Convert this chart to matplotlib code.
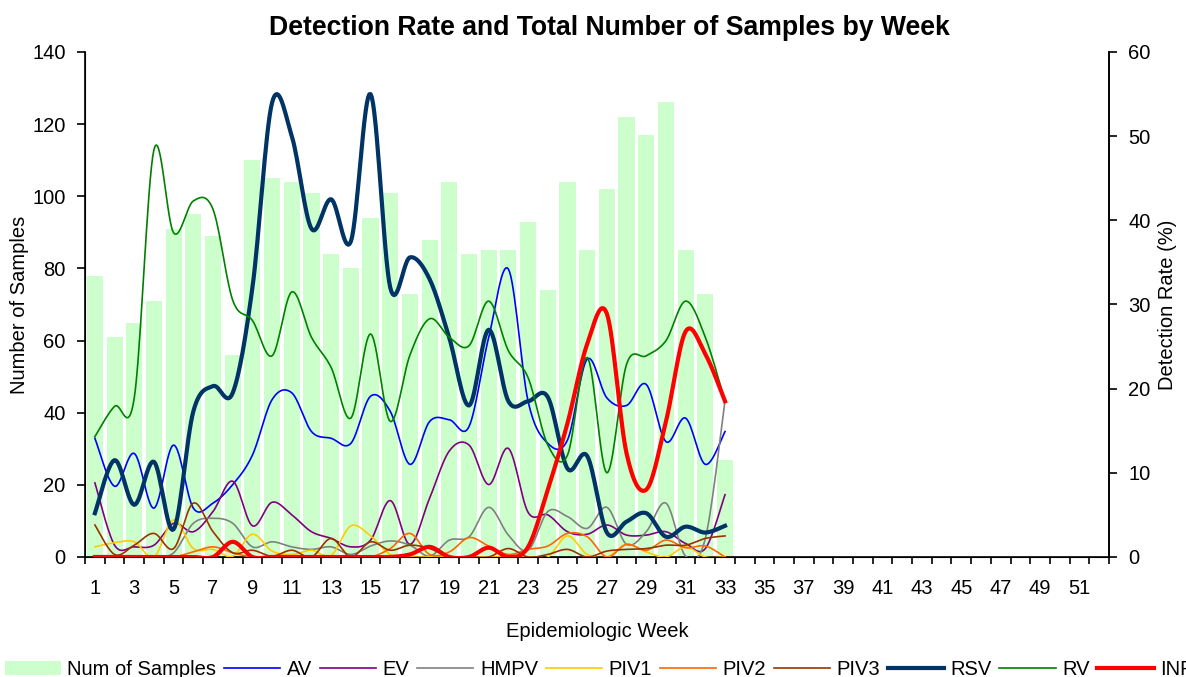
import numpy as np
import matplotlib
matplotlib.use("Agg")
import matplotlib.pyplot as plt
from matplotlib.patches import Patch
from matplotlib.lines import Line2D

plt.rcParams["font.family"] = ["Liberation Sans", "DejaVu Sans"]

WEEKS = list(range(1, 53))
DATA_WEEKS = list(range(1, 34))

NUM_SAMPLES = [78, 61, 65, 71, 91, 95, 89, 56, 110, 105, 104, 101, 84, 80, 94, 101, 73,
               88, 104, 84, 85, 85, 93, 74, 104, 85, 102, 122, 117, 126, 85, 73, 27]

AV = [14.1, 8.4, 12.3, 5.8, 13.3, 5.8, 6.4, 8.6, 12.1, 18.7, 19.5, 14.9, 14.1, 13.5, 19.1, 17.3, 11.0,
      16.1, 16.3, 15.5, 26.1, 34.2, 18.5, 13.5, 13.9, 23.5, 18.9, 18.0, 20.5, 13.7, 16.5, 11.0, 14.9]
EV = [8.8, 1.4, 1.2, 1.4, 4.0, 3.0, 5.4, 9.0, 3.7, 6.5, 5.0, 3.0, 2.2, 1.2, 2.0, 6.7, 1.5,
      7.0, 12.6, 13.3, 8.6, 12.9, 5.3, 5.0, 3.0, 2.7, 3.8, 2.6, 2.6, 3.0, 1.6, 1.0, 7.4]
HMPV = [0, 0, 0, 0, 0.5, 4.0, 4.6, 4.0, 1.2, 1.8, 1.2, 0.9, 1.2, 0.3, 1.3, 1.9, 1.4,
        0.1, 2.0, 2.4, 5.9, 2.6, 0.8, 5.4, 4.8, 3.4, 5.9, 1.5, 3.0, 6.4, 0.1, 2.2, 18.6]
PIV1 = [1.2, 1.7, 1.8, 0, 4.4, 1.0, 0.9, 0.1, 2.7, 0.7, 0.3, 0.8, 0.2, 3.7, 2.5, 0.3, 0,
        0, 0, 0, 0, 0, 0, 0, 2.5, 0.3, 0, 1.5, 0.6, 0, 1.2, 0, 0]
PIV2 = [0, 0, 0, 0, 0, 0.6, 1.2, 0.5, 0, 0, 0, 0, 0, 0, 0, 1.0, 2.8,
        0.3, 0.6, 2.3, 1.3, 0.3, 0.9, 1.3, 2.8, 2.4, 0, 1.5, 0.8, 2.0, 1.1, 1.3, 0]
PIV3 = [3.8, 0.3, 1.4, 2.8, 1.0, 6.4, 3.0, 0.5, 0.8, 0.1, 0.8, 0, 2.2, 0, 1.8, 0.8, 1.4,
        1.0, 0, 0, 0, 1.0, 0, 0.3, 0.9, 0, 0.7, 0.9, 1.0, 1.4, 1.4, 2.2, 2.5]
RSV = [5.2, 11.5, 6.2, 11.3, 3.3, 17.3, 20.3, 19.5, 32.0, 54.0, 50.0, 39.0, 42.5, 37.5, 55.0, 32.0, 35.6,
       33.0, 26.0, 18.0, 27.0, 18.5, 18.5, 19.0, 10.5, 12.0, 2.9, 4.2, 5.2, 2.4, 3.6, 2.9, 3.7]
RV = [14.3, 17.9, 18.9, 48.4, 38.5, 42.3, 41.3, 30.5, 28.1, 23.9, 31.5, 26.1, 22.5, 16.5, 26.5, 16.1, 24.0,
      28.3, 26.1, 25.1, 30.4, 24.5, 21.3, 13.3, 12.1, 23.7, 10.0, 22.9, 23.9, 25.7, 30.4, 26.1, 18.5]
INF = [0, 0, 0, 0, 0, 0, 0, 1.8, 0, 0, 0, 0, 0, 0, 0, 0, 0.3,
       1.2, 0, 0, 1.1, 0, 1.2, 8.0, 15.9, 25.3, 28.9, 12.3, 8.0, 16.1, 26.8, 24.1, 18.5]

SERIES = [("AV", AV, "#0000FF", 1.2), ("EV", EV, "#800080", 1.2), ("HMPV", HMPV, "#808080", 1.2),
          ("PIV1", PIV1, "#FFCC00", 1.2), ("PIV2", PIV2, "#FF6600", 1.2), ("PIV3", PIV3, "#993300", 1.2),
          ("RSV", RSV, "#003366", 3.0), ("RV", RV, "#008000", 1.2), ("INF", INF, "#FF0000", 3.0)]
BAR_COLOR = "#CCFFCC"


def smooth(x, y, n=16):
    # Excel-style smoothed line: cubic bezier through the points (Catmull-Rom tangents)
    pts = np.column_stack([x, y]).astype(float)
    p = np.vstack([pts[0], pts, pts[-1]])
    t = np.linspace(0, 1, n, endpoint=False)[:, None]
    segs = []
    for i in range(1, len(p) - 2):
        p0, p1, p2, p3 = p[i - 1], p[i], p[i + 1], p[i + 2]
        c1 = p1 + (p2 - p0) / 6
        c2 = p2 - (p3 - p1) / 6
        segs.append((1 - t) ** 3 * p1 + 3 * (1 - t) ** 2 * t * c1 + 3 * (1 - t) * t ** 2 * c2 + t ** 3 * p2)
    segs.append(pts[-1:])
    s = np.vstack(segs)
    return s[:, 0], s[:, 1]


fig = plt.figure(figsize=(11.86, 6.77), dpi=100)
ax = fig.add_axes([0.0717, 0.1773, 0.8634, 0.7459])
ax.bar(DATA_WEEKS, NUM_SAMPLES, width=0.82, color=BAR_COLOR, zorder=1)
ax.set_xlim(0.5, 52.5)
ax.set_ylim(0, 140)
ax.set_yticks(range(0, 141, 20))
ax.set_xticks([w - 0.5 for w in WEEKS] + [52.5])
ax.set_xticklabels([])
ax.set_xticks([w for w in WEEKS if w % 2 == 1], minor=True)
ax.set_xticklabels([str(w) for w in WEEKS if w % 2 == 1], minor=True)
ax.tick_params(axis="x", which="major", direction="out", length=5, width=1.2)
ax.tick_params(axis="x", which="minor", length=0, pad=16, labelsize=14.5)
ax.tick_params(axis="y", direction="out", length=6, width=1.2, pad=8, labelsize=14.5)
ax.spines["top"].set_visible(False)
for s in ("left", "bottom", "right"):
    ax.spines[s].set_linewidth(1.2)
ax.set_ylabel("Number of Samples", fontsize=14.5, labelpad=2)
ax.set_xlabel("Epidemiologic Week", fontsize=14.5, labelpad=17)

ax2 = ax.twinx()
for name, vals, color, lw in SERIES:
    xs, ys = smooth(DATA_WEEKS, vals)
    ax2.plot(xs, ys, color=color, lw=lw, solid_joinstyle="round", zorder=3)
ax2.set_ylim(0, 60)
ax2.set_yticks(range(0, 61, 10))
ax2.tick_params(axis="y", direction="out", length=6, width=1.2, pad=8, labelsize=14.5)
ax2.spines["top"].set_visible(False)
ax2.spines["right"].set_linewidth(1.2)
ax2.set_ylabel("Detection Rate (%)", fontsize=14.5, labelpad=5)

fig.text(0.514, 0.958, "Detection Rate and Total Number of Samples by Week",
         ha="center", va="center", fontsize=19.2, fontweight="bold")

handles = [Patch(facecolor=BAR_COLOR, edgecolor="none")]
handles += [Line2D([0], [0], color=c, lw=lw) for _, _, c, lw in SERIES]
labels = ["Num of Samples"] + [name for name, _, _, _ in SERIES]
fig.legend(handles, labels, loc="lower left", bbox_to_anchor=(-0.008, -0.024), ncol=10,
           frameon=False, fontsize=14.5, handlelength=2.8, handletextpad=0.32,
           columnspacing=0.38, borderpad=0.2)

fig.savefig("out.png", dpi=100)
